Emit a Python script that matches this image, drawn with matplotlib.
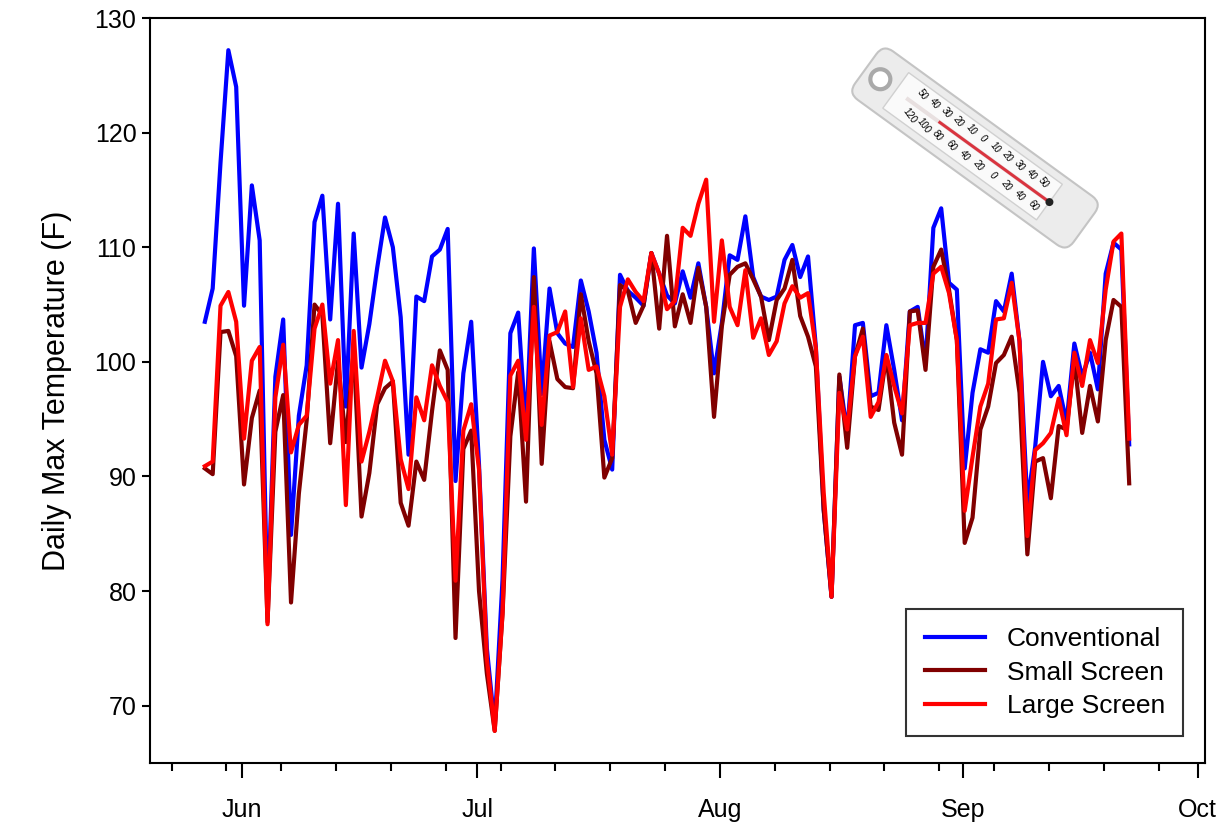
import matplotlib
matplotlib.use("Agg")
import matplotlib.pyplot as plt
import matplotlib.dates as mdates
import matplotlib.patches as mpatches
import matplotlib.transforms as mtransforms
import numpy as np
import pandas as pd

plt.rcParams['font.family'] = ['Liberation Sans', 'DejaVu Sans']

# daily values, 27 May - 22 Sep
dates = pd.date_range("2011-05-27 06:00", periods=119, freq="D")

conventional = [
    103.5, 106.4, 117.4, 127.2, 124.0, 104.9, 115.4, 110.6, 78.0, 98.7, 103.7, 84.9, 95.3, 99.7, 112.2, 114.5,
    103.7, 113.8, 96.1, 111.2, 99.5, 103.3, 108.2, 112.6, 110.0, 103.9, 91.9, 105.7, 105.3, 109.2, 109.8, 111.6,
    89.6, 99.0, 103.5, 91.0, 75.0, 68.2, 81.0, 102.5, 104.3, 94.0, 109.9, 97.2, 106.4, 102.5, 101.6, 101.3,
    107.1, 104.4, 100.8, 93.2, 90.6, 107.6, 106.2, 105.6, 104.9, 109.5, 107.7, 105.8, 105.1, 107.9, 105.6,
    108.6, 104.8, 99.0, 103.4, 109.3, 108.9, 112.7, 107.4, 105.7, 105.4, 105.7, 108.9, 110.2, 107.4, 109.2, 101.3,
    87.1, 79.5, 98.7, 93.8, 103.2, 103.4, 97.0, 97.3, 103.2, 99.3, 94.9, 104.4, 104.8, 99.9, 111.7, 113.4,
    106.9, 106.3, 90.7, 97.3, 101.1, 100.8, 105.3, 104.4, 107.7, 101.8, 87.7, 92.6, 100.0, 97.0, 97.9, 94.7,
    101.6, 98.7, 100.8, 97.6, 107.7, 110.4, 109.8, 92.8]

small_screen = [
    90.7, 90.2, 102.6, 102.7, 100.5, 89.3, 95.1, 97.5, 77.3, 93.9, 97.1, 79.0, 88.5, 94.9, 105.0, 104.1,
    92.9, 100.1, 93.0, 101.0, 86.5, 90.3, 96.3, 97.7, 98.3, 87.7, 85.7, 91.3, 89.7, 95.7, 101.0, 99.3,
    75.9, 92.4, 94.0, 80.0, 72.8, 67.8, 78.0, 93.5, 99.1, 87.8, 107.4, 91.1, 101.8, 98.5, 97.8, 97.7,
    105.9, 101.8, 99.0, 89.9, 91.6, 106.7, 106.2, 103.4, 104.9, 109.5, 102.9, 111.0, 103.1, 105.9, 103.4,
    108.2, 104.8, 95.2, 103.1, 107.6, 108.3, 108.6, 107.2, 105.7, 101.9, 105.4, 106.4, 108.9, 104.0, 102.2, 99.6,
    87.1, 79.5, 98.9, 92.5, 100.5, 102.9, 96.1, 95.8, 100.5, 94.7, 91.9, 104.4, 104.5, 99.3, 108.3, 109.8,
    106.3, 101.9, 84.2, 86.4, 94.1, 96.1, 99.9, 100.6, 102.2, 97.3, 83.2, 91.3, 91.6, 88.1, 94.4, 94.1,
    100.2, 93.8, 97.9, 94.8, 101.9, 105.4, 104.8, 89.4]

large_screen = [
    90.9, 91.3, 104.9, 106.1, 103.5, 93.3, 100.1, 101.3, 77.1, 96.9, 101.5, 92.1, 94.5, 95.3, 102.9, 105.0,
    98.1, 101.9, 87.5, 102.7, 91.3, 93.9, 96.9, 100.1, 98.3, 91.5, 88.9, 96.9, 94.9, 99.7, 97.9, 96.5,
    80.9, 94.0, 96.3, 90.6, 74.1, 67.8, 78.1, 98.8, 100.1, 93.2, 104.8, 94.5, 102.3, 102.6, 104.4, 97.8,
    103.8, 99.3, 99.6, 97.0, 91.9, 104.8, 107.2, 106.1, 105.3, 109.5, 107.7, 104.6, 105.3, 111.7, 111.0,
    113.8, 115.9, 103.5, 110.6, 104.8, 103.2, 108.0, 102.1, 103.8, 100.6, 101.8, 105.1, 106.6, 105.6, 106.0, 101.2,
    88.6, 79.5, 97.3, 94.1, 100.5, 102.2, 95.2, 96.5, 100.6, 97.9, 95.5, 103.2, 103.4, 103.4, 107.7, 108.3,
    106.0, 101.9, 87.0, 91.7, 96.1, 98.1, 103.7, 103.8, 106.9, 101.8, 84.8, 92.3, 92.9, 93.8, 96.8, 93.6,
    100.8, 97.9, 101.9, 99.9, 106.3, 110.5, 111.2, 93.3]

fig = plt.figure(figsize=(12.27, 8.23), dpi=100)
ax = fig.add_axes([0.122, 0.073, 0.86, 0.905])

ax.plot(dates, conventional, color='#0000ff', lw=3.0, label='Conventional')
ax.plot(dates, small_screen, color='#800000', lw=3.0, label='Small Screen')
ax.plot(dates, large_screen, color='#ff0000', lw=3.0, label='Large Screen')

ax.set_xlim(pd.Timestamp("2011-05-20 05:00"), pd.Timestamp("2011-10-01 22:00"))
ax.set_ylim(65, 130)
ax.xaxis.set_major_locator(mdates.MonthLocator())
ax.xaxis.set_major_formatter(mdates.DateFormatter('%b'))
ax.xaxis.set_minor_locator(mdates.WeekdayLocator(byweekday=mdates.MO))
ax.tick_params(axis='x', which='major', length=11, width=1.5, labelsize=18, pad=14)
ax.tick_params(axis='x', which='minor', length=6, width=1.5)
ax.tick_params(axis='y', length=6, width=1.5, labelsize=18)
for s in ax.spines.values():
    s.set_linewidth(1.5)
ax.set_ylabel('Daily Max Temperature (F)', fontsize=22, labelpad=16)

leg = ax.legend(loc='lower right', fontsize=19, fancybox=False, edgecolor='black',
                handlelength=2.3, borderpad=0.7, labelspacing=0.35, bbox_to_anchor=(0.992, 0.018))
leg.get_frame().set_linewidth(1.5)

# thermometer picture drawn with patches (pixel coordinates)
tr = mtransforms.Affine2D().rotate_deg(-36).translate(975, 823 - 148)
body = mpatches.FancyBboxPatch((-135, -30), 270, 60, boxstyle="round,pad=0,rounding_size=12",
                               facecolor='#ececec', edgecolor='#c4c4c4', lw=1.5,
                               transform=tr, zorder=5)
fig.patches.append(body)
ring = mpatches.Circle((-117, 0), 10, facecolor='white', edgecolor='#aaaaaa', lw=3, transform=tr, zorder=6)
fig.patches.append(ring)
face = mpatches.Rectangle((-98, -22), 190, 44, facecolor='#fafafa', edgecolor='#d0d0d0', lw=1,
                          transform=tr, zorder=6)
fig.patches.append(face)
tube = mpatches.Rectangle((-85, -2), 180, 4, facecolor='#e8e0e0', edgecolor='none', transform=tr, zorder=7)
fig.patches.append(tube)
fluid = mpatches.Rectangle((-45, -1.5), 135, 3, facecolor='#d9343f', edgecolor='none', transform=tr, zorder=8)
fig.patches.append(fluid)
bulb = mpatches.Circle((92, 0), 4, facecolor='#222222', transform=tr, zorder=8)
fig.patches.append(bulb)
for k, t in enumerate(['120', '100', '80', '60', '40', '20', '0', '20', '40', '60']):
    p = tr.transform((-72 + k * 17, -12))
    fig.text(p[0] / 1227, p[1] / 823, t, fontsize=7, rotation=-54, ha='center', va='center', zorder=9)
for k, t in enumerate(['50', '40', '30', '20', '10', '0', '10', '20', '30', '40', '50']):
    p = tr.transform((-74 + k * 15, 12))
    fig.text(p[0] / 1227, p[1] / 823, t, fontsize=7, rotation=-54, ha='center', va='center', zorder=9)

fig.savefig("out.png", dpi=100)
